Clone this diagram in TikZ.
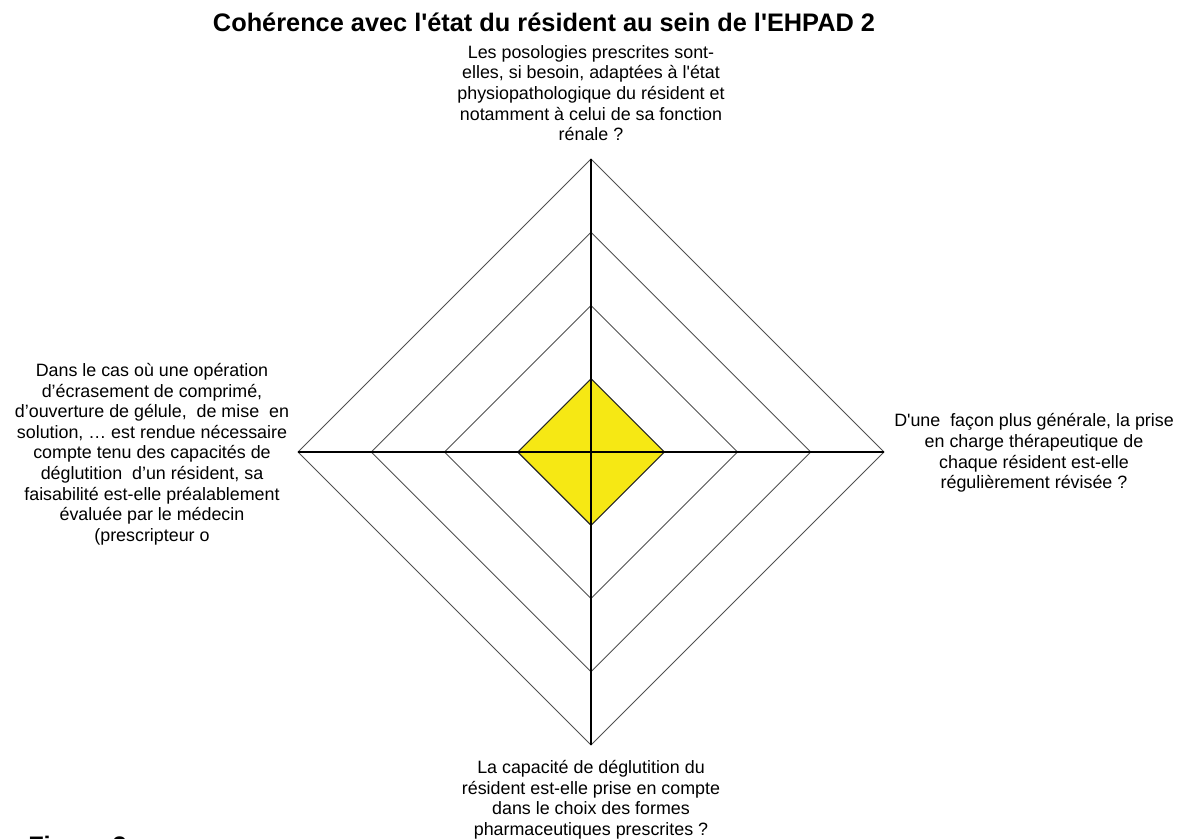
\documentclass[tikz,border=0pt]{standalone}
\usepackage{fontspec}
\setmainfont{Liberation Sans}
\definecolor{scoreyellow}{RGB}{246,232,20}
\definecolor{ringgray}{RGB}{80,80,80}
\tikzset{
  ring/.style={draw=ringgray, line width=0.75pt},
  axis/.style={draw=black, line width=0.85pt},
  score/.style={fill=scoreyellow, draw=black!85, line width=0.8pt},
  question/.style={font=\fontsize{13.4}{15.45}\selectfont, align=center, inner sep=0pt, anchor=north},
  heading/.style={font=\fontsize{19}{23}\selectfont\bfseries, inner sep=0pt}
}

\begin{document}
\begin{tikzpicture}[x=0.75pt,y=-0.75pt]
  \clip (0,0) rectangle (1180,838);
  \coordinate (c) at (591,452);
  % axis ends
  \coordinate (n4) at (591,159);
  \coordinate (e4) at (884,452);
  \coordinate (s4) at (591,745);
  \coordinate (w4) at (298,452);
  % rings
  \draw[ring] (591,232.25)--(810.75,452)--(591,671.75)--(371.25,452)--cycle;
  \draw[ring] (591,305.5)--(737.5,452)--(591,598.5)--(444.5,452)--cycle;
  \draw[ring] (n4)--(e4)--(s4)--(w4)--cycle;
  % score
  \draw[score] (591,378.75)--(664.25,452)--(591,525.25)--(517.75,452)--cycle;
  \draw[axis] (n4)--(s4);
  \draw[axis] (w4)--(e4);
  % labels
  \node[heading, anchor=base] (title) at (544,32) {Cohérence avec l\textquotesingle état du résident au sein de l\textquotesingle EHPAD 2};
  \node[question] (qn) at (591,45) {Les posologies prescrites sont-\\elles, si besoin, adaptées à l\textquotesingle état\\physiopathologique du résident et\\notamment à celui de sa fonction\\rénale ?};
  \node[question] (qe) at (1034,413.5) {D\textquotesingle une\ \ façon plus générale, la prise\\en charge thérapeutique de\\chaque résident est-elle\\régulièrement révisée ?};
  \node[question] (qs) at (591,760) {La capacité de déglutition du\\résident est-elle prise en compte\\dans le choix des formes\\pharmaceutiques prescrites ?};
  \node[question] (qw) at (152,363) {Dans le cas où une opération\\d’écrasement de comprimé,\\d’ouverture de gélule,\ \ de mise\ \ en\\solution, … est rendue nécessaire\\compte tenu des capacités de\\déglutition\ \ d’un résident, sa\\faisabilité est-elle préalablement\\évaluée par le médecin\\(prescripteur o};
  \node[heading, anchor=base west] (fig) at (28,854.5) {Figure 3};
\end{tikzpicture}
\end{document}
